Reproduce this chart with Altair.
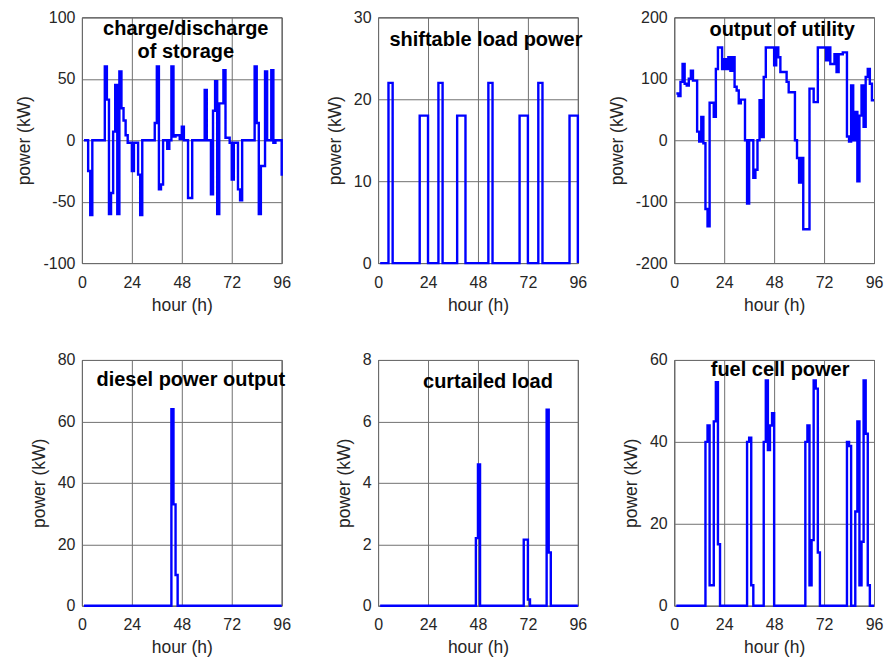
import altair as alt
import pandas as pd

hours = list(range(1, 97))

storage = [0, 0, -25, -61, 0, 0, 0, 0, 0, 0,
           60, 33, -60, -43, 7, 45, -60, 56, 26, 16,
           4, -2, -2, -25, -2, -2, -28, -61, 0, 0,
           0, 0, 0, 0, 14, 60, -40, -36, 0, 0,
           -7, 0, 60, 3, 4, 4, 1, 11, 0, 0,
           -47, -47, 0, 0, 0, 0, 0, 0, 41, 0,
           0, -44, 24, 48, -60, 30, 30, 57, 2, 2,
           -2, -32, -2, -2, -40, -49, 0, 0, 0, 0,
           0, 0, 60, 14, -60, -21, -21, 56, 0, 0,
           57, -2, 0, 0, 0, -29]

shiftable = [0, 0, 0, 0, 22, 22, 0, 0, 0, 0,
             0, 0, 0, 0, 0, 0, 0, 0, 0, 18,
             18, 18, 18, 0, 0, 0, 0, 0, 22, 22,
             0, 0, 0, 0, 0, 0, 0, 18, 18, 18,
             18, 0, 0, 0, 0, 0, 0, 0, 0, 0,
             0, 0, 22, 22, 0, 0, 0, 0, 0, 0,
             0, 0, 0, 0, 0, 0, 0, 18, 18, 18,
             18, 0, 0, 0, 0, 0, 22, 22, 0, 0,
             0, 0, 0, 0, 0, 0, 0, 0, 0, 0,
             0, 18, 18, 18, 18, 0]

utility = [76, 72, 95, 124, 92, 89, 100, 113, 97, 97,
           14, -2, 38, -5, -112, -140, 61, 61, 38, 116,
           151, 151, 116, 132, 116, 135, 113, 135, 87, 81,
           60, 66, 66, 0, -103, 0, 0, -61, -48, 0,
           65, 5, 103, 151, 151, 151, 151, 122, 151, 135,
           111, 111, 111, 95, 78, 78, 78, 0, -29, -69,
           -29, -145, -145, -145, 84, 84, 62, 62, 151, 151,
           151, 151, 130, 151, 124, 124, 140, 111, 140, 140,
           143, 143, 6, -2, 89, 0, 46, -67, 40, 89,
           22, 103, 116, 92, 65, 65]

diesel = [0] * 42 + [64, 33, 10] + [0] * 51

curtailed = [0] * 46 + [2.2, 4.6] + [0] * 21 + [2.15, 2.15, 0.2] + [0] * 8 + [6.38, 1.73] + [0] * 14

fuelcell = [0, 0, 0, 0, 0, 0, 0, 0, 0, 0,
            0, 0, 0, 0, 40, 44, 5, 5, 45, 54.6,
            15, 0, 0, 0, 0, 0, 0, 0, 0, 0,
            0, 0, 0, 0, 40, 41, 5, 0, 0, 0,
            0, 0, 40, 55, 38, 44, 47, 0, 0, 0,
            0, 0, 0, 0, 0, 0, 0, 0, 0, 0,
            0, 0, 40, 44, 5, 16, 55, 53, 13, 0,
            0, 0, 0, 0, 0, 0, 0, 0, 0, 0,
            0, 0, 40, 39, 0, 0, 23, 45, 5, 15.6,
            55, 42, 5, 0, 0, 0]

x_ticks = [0, 24, 48, 72, 96]

FONT = "Liberation Sans"


def panel(values, ymin, ymax, ystep, title, tx, ty):
    df = pd.DataFrame({"hour": hours, "power": values})
    line = alt.Chart(df).mark_line(
        interpolate="step-after", color="#0000ff", strokeWidth=2.4
    ).encode(
        x=alt.X("hour:Q",
                scale=alt.Scale(domain=[0, 96], nice=False, zero=False),
                axis=alt.Axis(values=x_ticks, title="hour (h)",
                              labelPadding=11, titlePadding=6)),
        y=alt.Y("power:Q",
                scale=alt.Scale(domain=[ymin, ymax], nice=False, zero=False),
                axis=alt.Axis(values=list(range(ymin, ymax + 1, ystep)),
                              title="power (kW)", labelPadding=7, titlePadding=9,
                              labelExpr="'' + datum.value")),
    )
    txt = alt.Chart(pd.DataFrame({"a": [0]})).mark_text(
        text=title, font=FONT, fontSize=20, fontWeight="bold", color="#000000",
        align="center", baseline="alphabetic", lineHeight=23
    ).encode(x=alt.value(tx), y=alt.value(ty))
    return alt.layer(line, txt).properties(width=200, height=246)


p1 = panel(storage, -100, 100, 50, ["charge/discharge", "of storage"], 104, 18)
p2 = panel(shiftable, 0, 30, 10, "shiftable load power", 108, 29)
p3 = panel(utility, -200, 200, 100, "output of utility", 108, 19)
p4 = panel(diesel, 0, 80, 20, "diesel power output", 109, 26)
p5 = panel(curtailed, 0, 8, 2, "curtailed load", 110, 28)
p6 = panel(fuelcell, 0, 60, 20, "fuel cell power", 106, 16)

chart = alt.concat(
    p1, p2, p3, p4, p5, p6, columns=3,
    spacing={"row": 97, "column": 96.5}, bounds="flush"
).properties(
    padding={"left": 7, "top": 0, "right": 0, "bottom": 0}
).configure_view(
    stroke="#262626", strokeWidth=1
).configure_axis(
    domain=False, ticks=False, grid=True, gridColor="#707070", gridWidth=1,
    gridOpacity=1, labelFont=FONT, labelFontSize=16, labelColor="#262626",
    titleFont=FONT, titleFontSize=17.5, titleFontWeight="normal",
    titleColor="#262626", labelFlush=False, labelOverlap=False
)

chart.save("out.html", embed_options={"renderer": "svg", "actions": False})
